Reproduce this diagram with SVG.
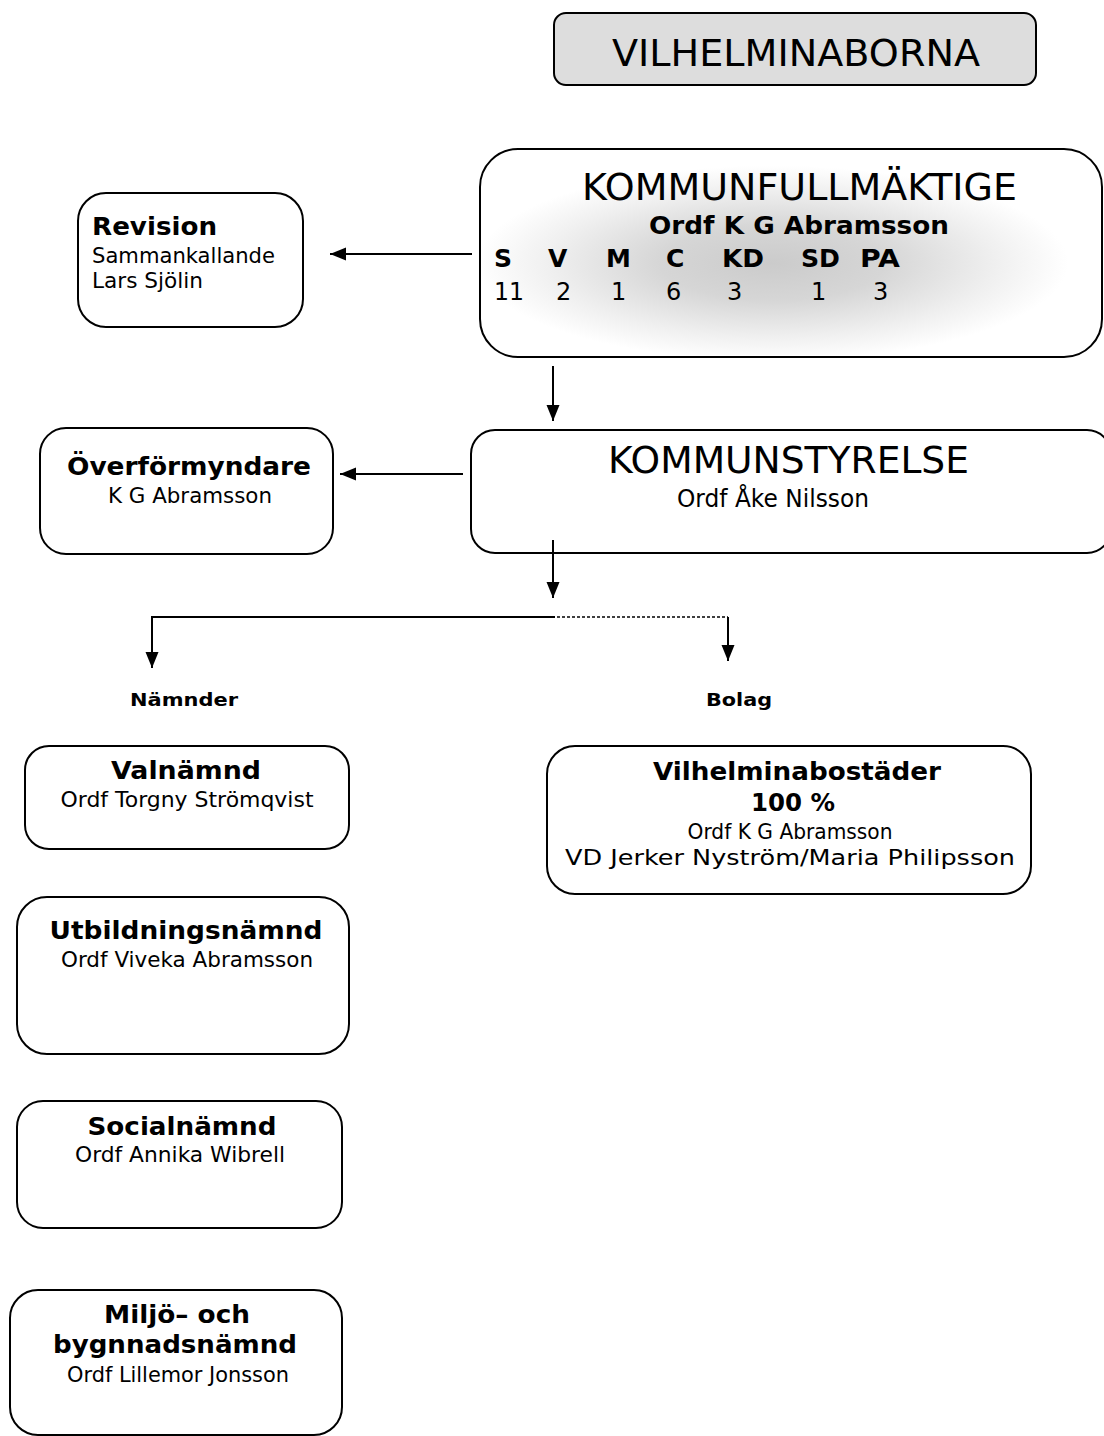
<svg xmlns="http://www.w3.org/2000/svg" width="1104" height="1436" viewBox="0 0 1104 1436">
<style>
.box{fill:#fff;stroke:#000;stroke-width:2}
.t{font-family:"DejaVu Sans","Liberation Sans",sans-serif;fill:#000}
.b{font-weight:bold}
.c{text-anchor:middle}
.big{font-size:37px}
.mid{font-size:24px}
.sm{font-size:21px}
.bs{font-size:25px;font-weight:bold}
.conn{stroke:#000;stroke-width:2;fill:none}
.dash{stroke:#000;stroke-width:1.3;stroke-dasharray:3 2;fill:none}
</style>
<defs>
<marker id="ah" markerUnits="userSpaceOnUse" markerWidth="17" markerHeight="14" refX="16" refY="7" orient="auto">
<path d="M0,0.5 L16,7 L0,13.5 Z" fill="#000"/>
</marker>
<radialGradient id="kfg" cx="0.47" cy="0.55" r="0.52">
<stop offset="0" stop-color="#cbcbcb"/>
<stop offset="0.35" stop-color="#d6d6d6"/>
<stop offset="0.7" stop-color="#f0f0f0"/>
<stop offset="0.92" stop-color="#ffffff"/>
</radialGradient>
</defs>

<g id="vilhelminaborna">
<rect x="554" y="13" width="482" height="72" rx="12" fill="#dddddd" stroke="#000" stroke-width="2"/>
<text class="t big" x="612" y="66" textLength="368" lengthAdjust="spacingAndGlyphs">VILHELMINABORNA</text>
</g>

<g id="kommunfullmaktige">
<rect class="box" x="480" y="149" width="622" height="208" rx="38"/>
<rect x="482" y="151" width="618" height="204" rx="36" fill="url(#kfg)"/>
<text class="t big" x="582" y="200" textLength="435" lengthAdjust="spacingAndGlyphs">KOMMUNFULLMÄKTIGE</text>
<text class="t bs" x="649" y="234" textLength="300" lengthAdjust="spacingAndGlyphs">Ordf K G Abramsson</text>
<g class="t bs">
<text x="494" y="267">S</text>
<text x="548" y="267">V</text>
<text x="606" y="267">M</text>
<text x="666" y="267">C</text>
<text x="722" y="267" textLength="42" lengthAdjust="spacingAndGlyphs">KD</text>
<text x="801" y="267" textLength="39" lengthAdjust="spacingAndGlyphs">SD</text>
<text x="860" y="267" textLength="40" lengthAdjust="spacingAndGlyphs">PA</text>
</g>
<g class="t mid">
<text x="494" y="300" textLength="30" lengthAdjust="spacingAndGlyphs">11</text>
<text x="556" y="300">2</text>
<text x="611" y="300">1</text>
<text x="666" y="300">6</text>
<text x="727" y="300">3</text>
<text x="811" y="300">1</text>
<text x="873" y="300">3</text>
</g>
</g>

<g id="revision">
<rect class="box" x="78" y="193" width="225" height="134" rx="28"/>
<text class="t bs" x="92" y="235" textLength="125" lengthAdjust="spacingAndGlyphs">Revision</text>
<text class="t sm" x="92" y="263" textLength="183" lengthAdjust="spacingAndGlyphs">Sammankallande</text>
<text class="t sm" x="92" y="288" textLength="111" lengthAdjust="spacingAndGlyphs">Lars Sjölin</text>
</g>

<g id="overformyndare">
<rect class="box" x="40" y="428" width="293" height="126" rx="26"/>
<text class="t bs c" x="189" y="475" textLength="244" lengthAdjust="spacingAndGlyphs">Överförmyndare</text>
<text class="t sm c" x="190" y="503" textLength="164" lengthAdjust="spacingAndGlyphs">K G Abramsson</text>
</g>

<g id="kommunstyrelse">
<rect class="box" x="471" y="430" width="640" height="123" rx="24"/>
<text class="t big" x="608" y="473" textLength="361" lengthAdjust="spacingAndGlyphs">KOMMUNSTYRELSE</text>
<text class="t mid" x="677" y="507" textLength="192" lengthAdjust="spacingAndGlyphs">Ordf Åke Nilsson</text>
</g>

<g id="namnder-label">
<text class="t b" x="130" y="706" font-size="18" textLength="108" lengthAdjust="spacingAndGlyphs">Nämnder</text>
</g>
<g id="bolag-label">
<text class="t b" x="706" y="706" font-size="18" textLength="66" lengthAdjust="spacingAndGlyphs">Bolag</text>
</g>

<g id="valnamnd">
<rect class="box" x="25" y="746" width="324" height="103" rx="24"/>
<text class="t bs c" x="186" y="779" textLength="150" lengthAdjust="spacingAndGlyphs">Valnämnd</text>
<text class="t sm c" x="187" y="807" textLength="253" lengthAdjust="spacingAndGlyphs">Ordf Torgny Strömqvist</text>
</g>

<g id="vilhelminabostader">
<rect class="box" x="547" y="746" width="484" height="148" rx="28"/>
<text class="t bs c" x="797" y="780" textLength="288" lengthAdjust="spacingAndGlyphs">Vilhelminabostäder</text>
<text class="t bs c" x="793" y="811" textLength="84" lengthAdjust="spacingAndGlyphs">100 %</text>
<text class="t sm c" x="790" y="839" textLength="205" lengthAdjust="spacingAndGlyphs">Ordf K G Abramsson</text>
<text class="t sm c" x="790" y="865" textLength="450" lengthAdjust="spacingAndGlyphs">VD Jerker Nyström/Maria Philipsson</text>
</g>

<g id="utbildningsnamnd">
<rect class="box" x="17" y="897" width="332" height="157" rx="30"/>
<text class="t bs c" x="186" y="939" textLength="273" lengthAdjust="spacingAndGlyphs">Utbildningsnämnd</text>
<text class="t sm c" x="187" y="967" textLength="252" lengthAdjust="spacingAndGlyphs">Ordf Viveka Abramsson</text>
</g>

<g id="socialnamnd">
<rect class="box" x="17" y="1101" width="325" height="127" rx="26"/>
<text class="t bs c" x="182" y="1135" textLength="189" lengthAdjust="spacingAndGlyphs">Socialnämnd</text>
<text class="t sm c" x="180" y="1162" textLength="210" lengthAdjust="spacingAndGlyphs">Ordf Annika Wibrell</text>
</g>

<g id="miljonamnd">
<rect class="box" x="10" y="1290" width="332" height="145" rx="28"/>
<text class="t bs c" x="177" y="1323" textLength="146" lengthAdjust="spacingAndGlyphs">Miljö– och</text>
<text class="t bs c" x="175" y="1353" textLength="244" lengthAdjust="spacingAndGlyphs">bygnnadsnämnd</text>
<text class="t sm c" x="178" y="1382" textLength="222" lengthAdjust="spacingAndGlyphs">Ordf Lillemor Jonsson</text>
</g>

<g id="connectors">
<line class="conn" x1="472" y1="254" x2="330" y2="254" marker-end="url(#ah)"/>
<line class="conn" x1="553" y1="366" x2="553" y2="421" marker-end="url(#ah)"/>
<line class="conn" x1="463" y1="474" x2="340" y2="474" marker-end="url(#ah)"/>
<line class="conn" x1="553" y1="540" x2="553" y2="598" marker-end="url(#ah)"/>
<line class="conn" x1="151" y1="617" x2="555" y2="617"/>
<line class="conn" x1="152" y1="616" x2="152" y2="668" marker-end="url(#ah)"/>
<line class="dash" x1="557" y1="617" x2="728" y2="617"/>
<line class="conn" x1="728" y1="617" x2="728" y2="661" marker-end="url(#ah)"/>
</g>
</svg>
